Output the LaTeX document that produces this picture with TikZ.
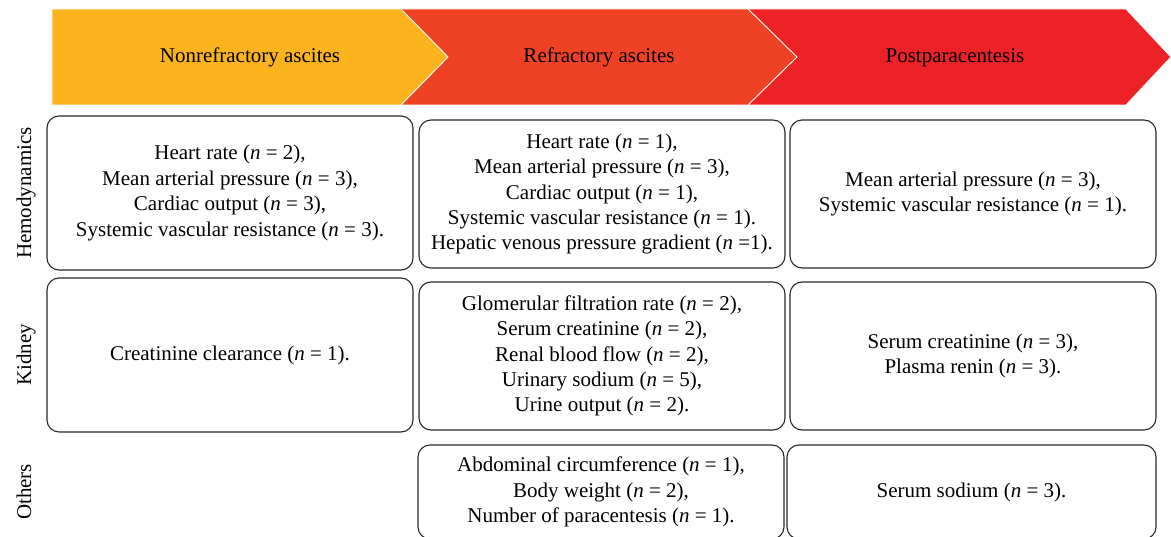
\documentclass[tikz,border=0pt]{standalone}
\usepackage{fontspec}
\setmainfont{Liberation Serif}
\definecolor{cyellow}{RGB}{251,180,29}
\definecolor{corange}{RGB}{239,65,35}
\definecolor{cred}{RGB}{236,34,38}
\definecolor{cline}{RGB}{40,40,40}
\newcommand{\nn}[1]{(\textit{n} = #1)}
\begin{document}
\begin{tikzpicture}[x=1pt,y=-1pt,
  cell/.style={draw=cline, line width=1.1pt, rounded corners=12pt, align=center,
    inner sep=0pt, font=\fontsize{21}{25.4}\selectfont},
  hdr/.style={font=\fontsize{21}{25}\selectfont, anchor=base, inner sep=0pt},
  rowlab/.style={rotate=90, anchor=base, inner sep=0pt, font=\fontsize{21}{25}\selectfont},
  chev/.style={draw=white, line width=0.9pt, line join=miter}]
\useasboundingbox (0,0) rectangle (1171,537);
% header chevrons
\filldraw[chev, fill=cred] (748,9) -- (1126,9) -- (1171,57) -- (1126,105) -- (748,105) -- cycle;
\filldraw[chev, fill=corange] (401,9) -- (748,9) -- (797,57) -- (748,105) -- (401,105) -- cycle;
\filldraw[chev, fill=cyellow] (52,9) -- (401,9) -- (448,57) -- (401,105) -- (52,105) -- cycle;
\node[hdr] (h1) at (250,62.5) {Nonrefractory ascites};
\node[hdr] (h2) at (599,62.5) {Refractory ascites};
\node[hdr] (h3) at (955,62.5) {Postparacentesis};
% row labels
\node[rowlab] (l1) at (31,193) {Hemodynamics};
\node[rowlab] (l2) at (31,355) {Kidney};
\node[rowlab] (l3) at (31,492) {Others};
% row 1
\node[cell, minimum width=366, minimum height=154] (r1c1) at (230,193)
  {Heart rate \nn{2},\\Mean arterial pressure \nn{3},\\Cardiac output \nn{3},\\Systemic vascular resistance \nn{3}.};
\node[cell, minimum width=366, minimum height=148] (r1c2) at (602,194)
  {Heart rate \nn{1},\\Mean arterial pressure \nn{3},\\Cardiac output \nn{1},\\Systemic vascular resistance \nn{1}.\\Hepatic venous pressure gradient (\textit{n} =1).};
\node[cell, minimum width=366, minimum height=148] (r1c3) at (973,194)
  {Mean arterial pressure \nn{3},\\Systemic vascular resistance \nn{1}.};
% row 2
\node[cell, minimum width=366, minimum height=154] (r2c1) at (230,355)
  {Creatinine clearance \nn{1}.};
\node[cell, minimum width=366, minimum height=148] (r2c2) at (602,356)
  {Glomerular filtration rate \nn{2},\\Serum creatinine \nn{2},\\Renal blood flow \nn{2},\\Urinary sodium \nn{5},\\Urine output \nn{2}.};
\node[cell, minimum width=366, minimum height=148] (r2c3) at (973,356)
  {Serum creatinine \nn{3},\\Plasma renin \nn{3}.};
% row 3
\node[cell, minimum width=366, minimum height=94] (r3c2) at (601,492)
  {Abdominal circumference \nn{1},\\Body weight \nn{2},\\Number of paracentesis \nn{1}.};
\node[cell, minimum width=369, minimum height=94] (r3c3) at (971.5,492)
  {Serum sodium \nn{3}.};
\end{tikzpicture}
\end{document}
